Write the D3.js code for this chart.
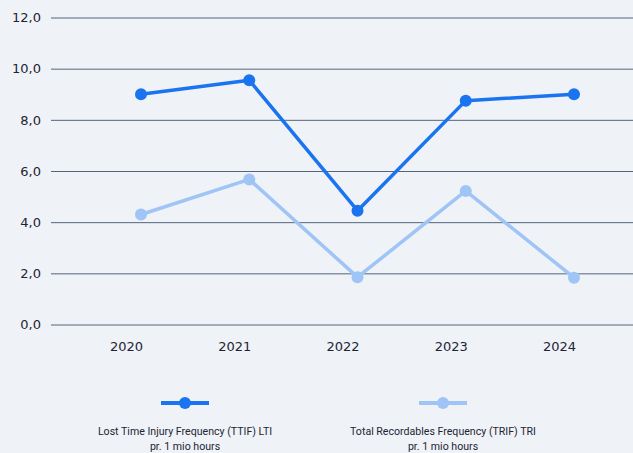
<!DOCTYPE html>
<html>
<head>
<meta charset="utf-8">
<script src="https://cdn.jsdelivr.net/npm/d3@7"></script>
<style>
  html, body { margin: 0; padding: 0; background: #eff2f7; }
  svg { display: block; }
  .axis .domain { display: none; }
  .y.axis line { stroke: #55657b; stroke-width: 1; }
  .axis text { fill: #1d2532; font-size: 13px; font-family: "DejaVu Sans", sans-serif; }
  .legend text { fill: #1d2532; font-size: 10.6px; font-family: Roboto, sans-serif; }
</style>
</head>
<body>
<div id="chart"></div>
<script>
const years = ["2020", "2021", "2022", "2023", "2024"];
const ltiValues = [9.0, 9.55, 4.45, 8.75, 9.0];
const triValues = [4.3, 5.67, 1.85, 5.22, 1.83];
const yTicks = [0, 2, 4, 6, 8, 10, 12];
const seriesNames = [
    ["Lost Time Injury Frequency (TTIF) LTI", "pr. 1 mio hours"],
    ["Total Recordables Frequency (TRIF) TRI", "pr. 1 mio hours"]
];
const seriesColors = ["#1a74f0", "#9fc4f6"];

const width = 633, height = 453;
const margin = {top: 17.5, right: 0, bottom: 128.5, left: 51};

const svg = d3.select("#chart").append("svg")
    .attr("width", width)
    .attr("height", height);

const x = d3.scalePoint().domain(years).range([141, 574]);
const y = d3.scaleLinear().domain([0, 12]).range([height - margin.bottom, margin.top]);

const locale = d3.formatLocale({decimal: ",", thousands: ".", grouping: [3], currency: ["", ""]});
const fmt = locale.format(".1f");

// gridlines + y labels
const yAxis = svg.append("g")
    .attr("class", "y axis")
    .attr("font-family", null)
    .attr("font-size", null)
    .attr("transform", `translate(${margin.left},0)`)
    .call(d3.axisLeft(y).tickValues(yTicks).tickFormat(fmt)
        .tickSize(-(width - margin.left)).tickPadding(10));
yAxis.attr("font-family", null).attr("font-size", null);
yAxis.selectAll(".tick text").attr("x", -10).attr("dy", "0.32em");

// x labels (sit a bit left of the points in the original)
const xAxis = svg.append("g")
    .attr("class", "x axis")
    .attr("transform", `translate(0,${y(0)})`)
    .call(d3.axisBottom(x).tickSize(0).tickPadding(17));
xAxis.attr("font-family", null).attr("font-size", null);
xAxis.selectAll(".tick text").attr("dx", -15);

const line = d3.line()
    .x((d, i) => x(years[i]))
    .y((d) => y(d));

const series = [triValues, ltiValues];
const colors = [seriesColors[1], seriesColors[0]];

series.forEach((vals, s) => {
    const g = svg.append("g");
    g.append("path")
        .datum(vals)
        .attr("fill", "none")
        .attr("stroke", colors[s])
        .attr("stroke-width", 3.5)
        .attr("stroke-linejoin", "round")
        .attr("d", line);
    g.selectAll("circle")
        .data(vals)
        .enter().append("circle")
        .attr("cx", (d, i) => x(years[i]))
        .attr("cy", (d) => y(d))
        .attr("r", 6)
        .attr("fill", colors[s]);
});

// legend
const legendX = [185, 443];
const legend = svg.append("g").attr("class", "legend");
seriesNames.forEach((name, i) => {
    const g = legend.append("g").attr("transform", `translate(${legendX[i]},403)`);
    g.append("line")
        .attr("x1", -24).attr("x2", 24)
        .attr("stroke", seriesColors[i])
        .attr("stroke-width", 4);
    g.append("circle")
        .attr("r", 6)
        .attr("fill", seriesColors[i]);
    g.append("text")
        .attr("text-anchor", "middle")
        .attr("y", 32)
        .text(name[0]);
    g.append("text")
        .attr("text-anchor", "middle")
        .attr("y", 47)
        .text(name[1]);
});
</script>
</body>
</html>
